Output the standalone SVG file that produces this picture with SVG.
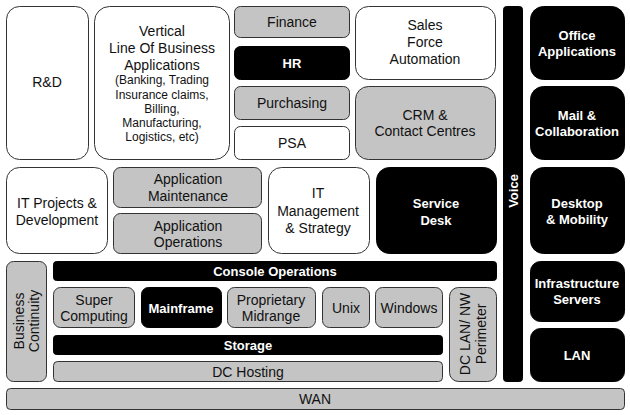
<svg xmlns="http://www.w3.org/2000/svg" width="630" height="415" viewBox="0 0 630 415">
<style>
  text { font-family: "Liberation Sans", Arial, sans-serif; font-size: 14px; text-anchor: middle; dominant-baseline: central; fill: #111; }
  .w rect, rect.w { fill: #ffffff; stroke: #333; stroke-width: 1; }
  .g rect, rect.g { fill: #c4c4c4; stroke: #333; stroke-width: 1; }
  .b rect, rect.b { fill: #000000; stroke: #000; stroke-width: 1; }
  .b text { fill: #ffffff; font-weight: bold; font-size: 13px; }
  .sm { font-size: 12px; }
</style>
<rect width="630" height="415" fill="#ffffff"/>

<g id="rnd" class="w"><rect x="6.5" y="6.5" width="82" height="153" rx="13"/><text x="47" y="82">R&amp;D</text></g>
<g id="lob" class="w"><rect x="94.5" y="6.5" width="135" height="153" rx="15"/>
  <text x="162" y="31">Vertical</text>
  <text x="162" y="48">Line Of Business</text>
  <text x="162" y="65">Applications</text>
  <text class="sm" x="162" y="80">(Banking, Trading</text>
  <text class="sm" x="162" y="95">Insurance claims,</text>
  <text class="sm" x="162" y="109">Billing,</text>
  <text class="sm" x="162" y="123">Manufacturing,</text>
  <text class="sm" x="162" y="137">Logistics, etc)</text>
</g>
<g id="finance" class="g"><rect x="234.5" y="6.5" width="115" height="31" rx="6"/><text x="292" y="22">Finance</text></g>
<g id="hr" class="b"><rect x="234.5" y="46.5" width="115" height="33" rx="6"/><text x="292" y="63">HR</text></g>
<g id="purchasing" class="g"><rect x="234.5" y="86.5" width="115" height="33" rx="6"/><text x="292" y="103">Purchasing</text></g>
<g id="psa" class="w"><rect x="234.5" y="126.5" width="115" height="33" rx="6"/><text x="292" y="143">PSA</text></g>
<g id="sfa" class="w"><rect x="355.5" y="6.5" width="140" height="73" rx="13"/>
  <text x="425" y="25">Sales</text><text x="425" y="42">Force</text><text x="425" y="59">Automation</text></g>
<g id="crm" class="g"><rect x="355.5" y="86.5" width="140" height="73" rx="13"/>
  <text x="425" y="115">CRM &amp;</text><text x="425" y="131">Contact Centres</text></g>

<g id="voice" class="b"><rect x="503.5" y="6.5" width="19" height="375" rx="3"/>
  <text transform="translate(513 191) rotate(-90)" x="0" y="0">Voice</text></g>

<g id="office" class="b"><rect x="530.5" y="6.5" width="94" height="73" rx="13"/>
  <text x="577" y="35">Office</text><text x="577" y="51">Applications</text></g>
<g id="mail" class="b"><rect x="530.5" y="86.5" width="94" height="73" rx="13"/>
  <text x="577" y="115">Mail &amp;</text><text x="577" y="131">Collaboration</text></g>
<g id="desktop" class="b"><rect x="530.5" y="167.5" width="94" height="86" rx="13"/>
  <text x="577" y="203">Desktop</text><text x="577" y="219">&amp; Mobility</text></g>
<g id="infra" class="b"><rect x="530.5" y="261.5" width="94" height="60" rx="10"/>
  <text x="577" y="283">Infrastructure</text><text x="577" y="299">Servers</text></g>
<g id="lan" class="b"><rect x="530.5" y="328.5" width="94" height="53" rx="10"/>
  <text x="577" y="355">LAN</text></g>

<g id="itprojects" class="w"><rect x="6.5" y="167.5" width="101" height="86" rx="13"/>
  <text x="57" y="203">IT Projects &amp;</text><text x="57" y="220">Development</text></g>
<g id="appmaint" class="g"><rect x="113.5" y="167.5" width="148" height="40" rx="7"/>
  <text x="188" y="179">Application</text><text x="188" y="196">Maintenance</text></g>
<g id="appops" class="g"><rect x="113.5" y="213.5" width="148" height="40" rx="7"/>
  <text x="188" y="226">Application</text><text x="188" y="242">Operations</text></g>
<g id="itmgmt" class="w"><rect x="268.5" y="167.5" width="101" height="86" rx="13"/>
  <text x="318" y="193">IT</text><text x="318" y="211">Management</text><text x="318" y="228">&amp; Strategy</text></g>
<g id="servicedesk" class="b"><rect x="376.5" y="167.5" width="120" height="86" rx="13"/>
  <text x="436" y="203">Service</text><text x="436" y="220">Desk</text></g>

<g id="bizcont" class="g"><rect x="6.5" y="261.5" width="40" height="120" rx="7"/>
  <text transform="translate(26 321) rotate(-90)" x="0" y="-7">Business</text>
  <text transform="translate(26 321) rotate(-90)" x="0" y="8">Continuity</text></g>
<g id="console" class="b"><rect x="53.5" y="261.5" width="443" height="19" rx="3"/>
  <text x="275" y="271">Console Operations</text></g>
<g id="supercomp" class="g"><rect x="53.5" y="287.5" width="81" height="40" rx="7"/>
  <text x="94" y="300">Super</text><text x="94" y="316">Computing</text></g>
<g id="mainframe" class="b"><rect x="141.5" y="287.5" width="80" height="40" rx="7"/>
  <text x="181" y="308">Mainframe</text></g>
<g id="midrange" class="g"><rect x="227.5" y="287.5" width="88" height="40" rx="7"/>
  <text x="271" y="300">Proprietary</text><text x="271" y="316">Midrange</text></g>
<g id="unix" class="g"><rect x="322.5" y="287.5" width="47" height="40" rx="7"/>
  <text x="346" y="308">Unix</text></g>
<g id="windows" class="g"><rect x="375.5" y="287.5" width="67" height="40" rx="7"/>
  <text x="409" y="308">Windows</text></g>
<g id="storage" class="b"><rect x="53.5" y="335.5" width="389" height="19" rx="3"/>
  <text x="248" y="345">Storage</text></g>
<g id="dchosting" class="g"><rect x="53.5" y="361.5" width="389" height="20" rx="4"/>
  <text x="248" y="372">DC Hosting</text></g>
<g id="dclan" class="g"><rect x="449.5" y="287.5" width="47" height="94" rx="9"/>
  <text transform="translate(473 334) rotate(-90)" x="0" y="-8">DC LAN/ NW</text>
  <text transform="translate(473 334) rotate(-90)" x="0" y="8">Perimeter</text></g>
<g id="wan" class="g"><rect x="6.5" y="388.5" width="618" height="21" rx="4"/>
  <text x="315" y="399">WAN</text></g>

<g id="connectors"></g>
</svg>
